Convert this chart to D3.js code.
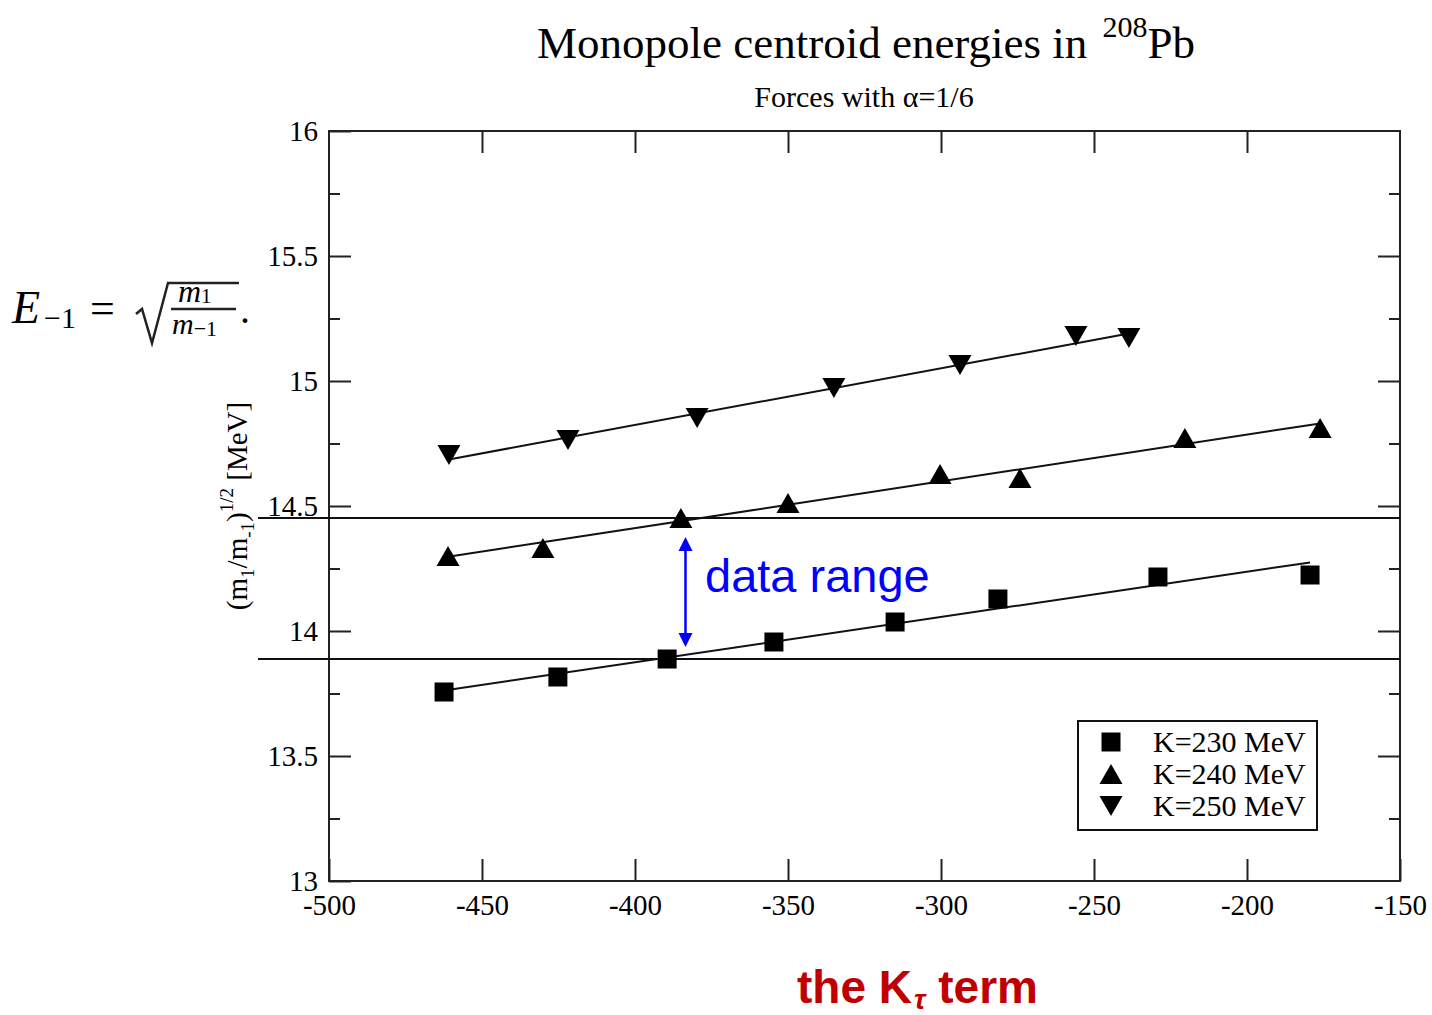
<!DOCTYPE html>
<html>
<head>
<meta charset="utf-8">
<script src="https://cdn.jsdelivr.net/npm/d3@7"></script>
<style>
  body { margin: 0; background: #fff; }
  svg { display: block; }
</style>
</head>
<body>
<svg id="chart" width="1432" height="1015"></svg>
<script>
// x values (K_tau term) and centroid energies for each series
var k230X = [-462.4, -425.2, -389.5, -354.6, -315.0, -281.4, -229.1, -179.4];
var k230Y = [13.756, 13.816, 13.888, 13.956, 14.036, 14.128, 14.216, 14.224];
var k240X = [-461.1, -430.1, -385.0, -350.0, -300.3, -274.2, -220.3, -176.1];
var k240Y = [14.300, 14.332, 14.452, 14.512, 14.628, 14.612, 14.772, 14.812];
var k250X = [-460.8, -421.9, -379.7, -335.0, -293.8, -255.9, -238.6];
var k250Y = [14.704, 14.764, 14.852, 14.972, 15.064, 15.180, 15.172];

var seriesNames = ["K=230 MeV", "K=240 MeV", "K=250 MeV"];
var seriesSymbols = ["square", "up", "down"];

var xTicks = [-500, -450, -400, -350, -300, -250, -200, -150];
var yTicks = [13, 13.5, 14, 14.5, 15, 15.5, 16];
var yMinorTicks = [13.25, 13.75, 14.25, 14.75, 15.25, 15.75];

// horizontal lines marking the data range, and where the arrow sits
var rangeLines = [14.452, 13.888];
var arrowX = -383.5;

var svg = d3.select("#chart");
var serif = "'Liberation Serif', 'Times New Roman', serif";
var sans = "'Liberation Sans', Arial, sans-serif";

var x = d3.scaleLinear().domain([-500, -150]).range([329, 1400]);
var y = d3.scaleLinear().domain([13, 16]).range([881, 131]);

/*
 * path for a marker symbol centred on 0,0
 */
function symbolPath(kind) {
    if (kind === "square") return "M-9.5,-9.5H9.5V9.5H-9.5Z";
    if (kind === "up") return "M0,-10L11.5,10H-11.5Z";
    return "M0,10L11.5,-10H-11.5Z";
}

// plot frame
svg.append("rect")
    .attr("x", x(-500))
    .attr("y", y(16))
    .attr("width", x(-150) - x(-500))
    .attr("height", y(13) - y(16))
    .attr("fill", "none")
    .attr("stroke", "#222")
    .attr("stroke-width", 2);

// axes, ticks pointing inward
function styleAxis(g) {
    g.select(".domain").remove();
    g.selectAll(".tick line").attr("stroke", "#222").attr("stroke-width", 2);
    g.selectAll(".tick text")
        .attr("font-family", serif)
        .attr("font-size", 29)
        .attr("fill", "#000");
}

svg.append("g")
    .attr("transform", "translate(0," + y(13) + ")")
    .call(d3.axisBottom(x).tickValues(xTicks).tickSize(-22).tickPadding(13)
        .tickFormat(function(d) { return String(d); }))
    .call(styleAxis);

svg.append("g")
    .attr("transform", "translate(0," + y(16) + ")")
    .call(d3.axisTop(x).tickValues(xTicks.slice(1, -1)).tickSize(-22).tickFormat(""))
    .call(styleAxis);

svg.append("g")
    .attr("transform", "translate(" + x(-500) + ",0)")
    .call(d3.axisLeft(y).tickValues(yTicks).tickSize(-22).tickPadding(11)
        .tickFormat(function(d) { return String(d); }))
    .call(styleAxis);

svg.append("g")
    .attr("transform", "translate(" + x(-500) + ",0)")
    .call(d3.axisLeft(y).tickValues(yMinorTicks).tickSize(-11).tickFormat(""))
    .call(styleAxis);

svg.append("g")
    .attr("transform", "translate(" + x(-150) + ",0)")
    .call(d3.axisRight(y).tickValues(yTicks.slice(1, -1)).tickSize(-22).tickFormat(""))
    .call(styleAxis);

svg.append("g")
    .attr("transform", "translate(" + x(-150) + ",0)")
    .call(d3.axisRight(y).tickValues(yMinorTicks).tickSize(-11).tickFormat(""))
    .call(styleAxis);

// range marker lines
svg.selectAll(".range-line")
    .data(rangeLines)
    .enter().append("line")
    .attr("class", "range-line")
    .attr("x1", 258)
    .attr("x2", x(-150))
    .attr("y1", function(d) { return y(d); })
    .attr("y2", function(d) { return y(d); })
    .attr("stroke", "#111")
    .attr("stroke-width", 2);

// series: fit line + markers
var series = [
    { xs: k230X, ys: k230Y },
    { xs: k240X, ys: k240Y },
    { xs: k250X, ys: k250Y }
];

series.forEach(function(s, i) {
    var pts = s.xs.map(function(v, j) { return [v, s.ys[j]]; });
    var mx = d3.mean(s.xs), my = d3.mean(s.ys);
    var sxy = d3.sum(pts, function(p) { return (p[0] - mx) * (p[1] - my); });
    var sxx = d3.sum(s.xs, function(v) { return (v - mx) * (v - mx); });
    var slope = sxy / sxx, icpt = my - slope * mx;
    var ext = d3.extent(s.xs);

    svg.append("line")
        .attr("x1", x(ext[0]))
        .attr("y1", y(icpt + slope * ext[0]))
        .attr("x2", x(ext[1]))
        .attr("y2", y(icpt + slope * ext[1]))
        .attr("stroke", "#111")
        .attr("stroke-width", 2);

    svg.append("g").selectAll("path")
        .data(pts)
        .enter().append("path")
        .attr("d", symbolPath(seriesSymbols[i]))
        .attr("transform", function(p) { return "translate(" + x(p[0]) + "," + y(p[1]) + ")"; })
        .attr("fill", "#000");
});

// legend
var legend = svg.append("g").attr("transform", "translate(1078,721)");
legend.append("rect")
    .attr("width", 239)
    .attr("height", 109)
    .attr("fill", "#fff")
    .attr("stroke", "#111")
    .attr("stroke-width", 2);
var item = legend.selectAll(".item")
    .data(seriesNames)
    .enter().append("g")
    .attr("transform", function(d, i) { return "translate(0," + (21 + i * 32) + ")"; });
item.append("path")
    .attr("d", function(d, i) { return symbolPath(seriesSymbols[i]); })
    .attr("transform", "translate(33,0)")
    .attr("fill", "#000");
item.append("text")
    .attr("x", 75)
    .attr("y", 10)
    .attr("font-family", serif)
    .attr("font-size", 30)
    .text(function(d) { return d; });

// title + subtitle
var title = svg.append("text")
    .attr("x", 537)
    .attr("y", 58)
    .attr("font-family", serif)
    .attr("font-size", 45);
title.append("tspan").text("Monopole centroid energies in ");
title.append("tspan").attr("font-size", 30).attr("dy", -21).attr("dx", 4).text("208");
title.append("tspan").attr("dy", 21).text("Pb");

svg.append("text")
    .attr("x", 864)
    .attr("y", 107)
    .attr("text-anchor", "middle")
    .attr("font-family", serif)
    .attr("font-size", 30)
    .text("Forces with \u03b1=1/6");

// y axis title (rotated)
var ylab = svg.append("text")
    .attr("transform", "translate(247,506) rotate(-90)")
    .attr("text-anchor", "middle")
    .attr("font-family", serif)
    .attr("font-size", 29);
ylab.append("tspan").text("(m");
ylab.append("tspan").attr("font-size", 19).attr("dy", 7).text("1");
ylab.append("tspan").attr("dy", -7).text("/m");
ylab.append("tspan").attr("font-size", 19).attr("dy", 7).text("-1");
ylab.append("tspan").attr("dy", -7).text(")");
ylab.append("tspan").attr("font-size", 19).attr("dy", -14).text("1/2");
ylab.append("tspan").attr("dy", 14).text(" [MeV]");

// formula E_-1 = sqrt(m1/m-1).
var fml = svg.append("g").attr("font-family", serif);
var eText = fml.append("text").attr("x", 12).attr("y", 323).attr("font-size", 46).attr("font-style", "italic");
eText.append("tspan").text("E");
eText.append("tspan").attr("font-style", "normal").attr("font-size", 30).attr("dy", 5).attr("dx", 4).text("\u22121");
fml.append("text").attr("x", 90).attr("y", 323).attr("font-size", 44).text("=");
fml.append("path")
    .attr("d", "M136,314L142,309L152,343L168,283H239")
    .attr("fill", "none")
    .attr("stroke", "#222")
    .attr("stroke-width", 2.5);
var num = fml.append("text").attr("x", 178).attr("y", 302).attr("font-size", 32)
    .attr("font-style", "italic");
num.append("tspan").text("m");
num.append("tspan").attr("font-style", "normal").attr("font-size", 21).attr("dy", 1).text("1");
fml.append("line")
    .attr("x1", 171).attr("x2", 236)
    .attr("y1", 309).attr("y2", 309)
    .attr("stroke", "#222").attr("stroke-width", 2.5);
var den = fml.append("text").attr("x", 172).attr("y", 334).attr("font-size", 30).attr("font-style", "italic");
den.append("tspan").text("m");
den.append("tspan").attr("font-style", "normal").attr("font-size", 22).attr("dy", 2).text("\u22121");
fml.append("text").attr("x", 240).attr("y", 323).attr("font-size", 40).text(".");

// data range annotation
var blue = "#0000ff";
var arrowTop = y(rangeLines[0]) + 19, arrowBot = y(rangeLines[1]) - 12;
svg.append("line")
    .attr("x1", x(arrowX)).attr("x2", x(arrowX))
    .attr("y1", arrowTop + 12).attr("y2", arrowBot - 12)
    .attr("stroke", blue).attr("stroke-width", 2.5);
svg.append("path")
    .attr("d", "M" + x(arrowX) + "," + arrowTop + "l-7,14h14z")
    .attr("fill", blue);
svg.append("path")
    .attr("d", "M" + x(arrowX) + "," + arrowBot + "l-7,-14h14z")
    .attr("fill", blue);
svg.append("text")
    .attr("x", 705)
    .attr("y", 592)
    .attr("font-family", sans)
    .attr("font-size", 47)
    .attr("fill", blue)
    .text("data range");

// bottom axis caption
var cap = svg.append("text")
    .attr("x", 797)
    .attr("y", 1003)
    .attr("font-family", sans)
    .attr("font-weight", "bold")
    .attr("font-size", 46)
    .attr("fill", "#c00000");
cap.append("tspan").text("the K");
cap.append("tspan").attr("font-size", 28).attr("font-style", "italic").attr("dy", 6).attr("dx", 2).text("\u03c4");
cap.append("tspan").attr("dy", -6).text(" term");
</script>
</body>
</html>
